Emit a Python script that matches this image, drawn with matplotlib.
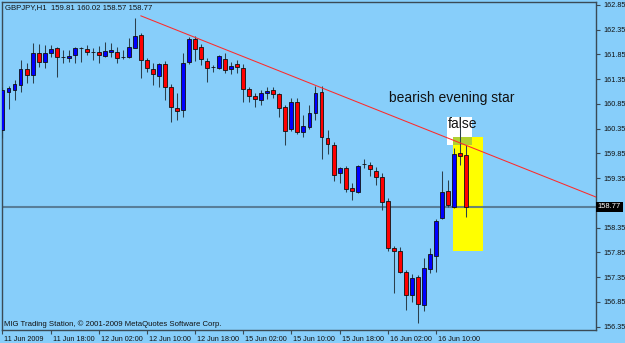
import matplotlib
matplotlib.use("Agg")
import matplotlib.pyplot as plt
from matplotlib.patches import Rectangle
from matplotlib.transforms import ScaledTranslation
import numpy as np

# GBPJPY H1, bar 0 = 11 Jun 2009 10:00
opens = [160.33, 161.09, 161.13, 161.23, 161.56, 161.44, 161.88, 161.70, 161.88, 161.98,
         161.79, 161.78, 161.84, 161.98, 161.96, 161.89, 161.90, 161.82, 161.90, 161.90,
         161.79, 161.80, 161.98, 162.24, 161.74, 161.56, 161.42, 161.66, 161.19, 160.77,
         160.73, 161.70, 162.16, 162.00, 161.72, 161.60, 161.58, 161.76, 161.56, 161.66,
         161.58, 161.15, 161.01, 160.93, 161.07, 161.13, 161.05, 160.79, 160.35, 160.89,
         160.28, 160.38, 160.67, 161.09, 160.16, 160.02, 159.46, 159.56, 159.15, 159.07,
         159.63, 159.62, 159.50, 159.38, 158.89, 157.94, 157.88, 157.46, 156.99, 157.35,
         156.79, 157.52, 157.78, 158.55, 159.09, 158.77, 159.86, 159.81]
highs = [161.19, 161.21, 161.34, 161.74, 161.68, 162.08, 162.06, 162.04, 162.04, 162.00,
         161.94, 161.94, 162.00, 162.00, 162.04, 161.98, 162.02, 162.10, 162.08, 162.00,
         161.94, 162.18, 162.59, 162.28, 161.78, 161.68, 161.68, 161.72, 161.25, 161.07,
         161.88, 162.20, 162.22, 162.06, 161.78, 161.64, 161.84, 161.88, 161.70, 161.74,
         161.66, 161.19, 161.07, 161.13, 161.19, 161.19, 161.07, 160.83, 160.97, 160.97,
         160.63, 160.83, 161.21, 161.21, 160.33, 160.08, 159.58, 159.60, 159.25, 159.62,
         159.74, 159.68, 159.58, 159.46, 158.95, 157.98, 157.96, 157.50, 157.42, 157.40,
         157.74, 157.94, 158.53, 159.50, 159.32, 159.96, 160.39, 160.02]
lows = [160.16, 160.75, 160.93, 161.09, 161.27, 161.27, 161.60, 161.58, 161.80, 161.40,
        161.68, 161.70, 161.68, 161.70, 161.84, 161.74, 161.68, 161.80, 161.80, 161.68,
        161.76, 161.78, 161.98, 161.38, 161.50, 161.23, 161.19, 160.93, 160.49, 160.53,
        160.59, 161.66, 161.72, 161.64, 161.29, 161.50, 161.56, 161.48, 161.46, 161.48,
        160.89, 160.89, 160.79, 160.83, 160.95, 160.97, 160.59, 160.02, 160.30, 160.24,
        160.18, 160.35, 160.53, 159.74, 159.84, 159.30, 159.25, 159.07, 158.91, 159.05,
        159.56, 159.40, 159.21, 158.71, 157.88, 157.03, 157.44, 156.69, 156.85, 156.43,
        156.67, 157.44, 157.46, 158.53, 158.77, 158.75, 159.62, 158.57]
closes = [161.13, 161.17, 161.25, 161.56, 161.44, 161.88, 161.70, 161.88, 161.96, 161.80,
          161.79, 161.82, 161.98, 161.98, 161.90, 161.89, 161.84, 161.92, 161.94, 161.78,
          161.79, 162.00, 162.22, 161.74, 161.58, 161.46, 161.66, 161.19, 160.79, 160.71,
          161.68, 162.16, 161.96, 161.76, 161.58, 161.60, 161.82, 161.54, 161.62, 161.60,
          161.15, 161.01, 160.95, 161.07, 161.11, 161.05, 160.77, 160.30, 160.89, 160.28,
          160.41, 160.67, 161.07, 160.18, 160.04, 159.42, 159.56, 159.13, 159.09, 159.60,
          159.63, 159.54, 159.38, 158.87, 157.94, 157.88, 157.46, 156.99, 157.33, 156.81,
          157.54, 157.82, 158.49, 159.07, 158.81, 159.84, 159.80, 158.77]

tick_pos = [0, 8, 16, 24, 32, 40, 48, 56, 64, 72]
tick_labels = ["11 Jun 2009", "11 Jun 18:00", "12 Jun 02:00", "12 Jun 10:00", "12 Jun 18:00",
               "15 Jun 02:00", "15 Jun 10:00", "15 Jun 18:00", "16 Jun 02:00", "16 Jun 10:00"]
price_ticks = [156.35, 156.85, 157.35, 157.85, 158.35, 158.85, 159.35, 159.85,
               160.35, 160.85, 161.35, 161.85, 162.35, 162.85]

last_price = 158.77
trend_x = [23, 98.6]
trend_y = [162.63, 158.97]
zone_x = [74.9, 79.9]
zone_y = [157.87, 160.19]
star_x = [74.9, 78.0]
star_y = [160.02, 160.19]
label_x = [73.8, 78.0]
label_y = [160.02, 160.59]

BG = "#87cefa"
font = "Liberation Sans"

fig = plt.figure(figsize=(6.25, 3.43), dpi=100, facecolor=BG)
ax = fig.add_axes([2 / 625, 13 / 343, 594 / 625, 328 / 343])
ax.set_facecolor(BG)
ax.set_xlim(-0.08, 98.6)
ax.set_ylim(156.284, 162.91)

# objects drawn on the chart
ax.add_patch(Rectangle((label_x[0], label_y[0]), label_x[1] - label_x[0], label_y[1] - label_y[0],
                       facecolor="white", edgecolor="none", zorder=1))
ax.add_patch(Rectangle((zone_x[0], zone_y[0]), zone_x[1] - zone_x[0], zone_y[1] - zone_y[0],
                       facecolor="#ffff00", edgecolor="none", zorder=1.2))
ax.add_patch(Rectangle((star_x[0], star_y[0]), star_x[1] - star_x[0], star_y[1] - star_y[0],
                       facecolor="#b0d030", edgecolor="none", zorder=1.4))

ax.axhline(last_price, color="#4f7088", lw=1.5, alpha=0.85, zorder=2)

x = np.arange(len(opens))
o = np.array(opens)
c = np.array(closes)
cols = np.where(c > o, "#0000ff", np.where(c < o, "#ff0000", "#111111"))
heights = np.where(c == o, 0.004, c - o)
ax.vlines(x, lows, highs, color="#2b3f4c", lw=0.75, zorder=3)
ax.bar(x, heights, bottom=o, width=0.65, color=cols, edgecolor="#111111", lw=0.6, zorder=4)

ax.plot(trend_x, trend_y, color="#ff2a2a", lw=0.75, zorder=5)

ax.text(64.2, 160.89, "bearish evening star", fontsize=10, family=font, color="#111111",
        va="baseline", ha="left", zorder=6)
ax.text(74.0, 160.36, "false", fontsize=10, family=font, color="#111111",
        va="baseline", ha="left", zorder=6)

# axes, ticks
for s in ax.spines.values():
    s.set_color("#3a4a55")
    s.set_linewidth(1)
ax.yaxis.tick_right()
ax.set_yticks(price_ticks)
# the 158.85 label sits under the current price box
ax.set_yticklabels(["" if abs(p - last_price) < 0.2 else f"{p:.2f}" for p in price_ticks],
                   fontsize=5.2, family=font)
ax.tick_params(axis="y", length=3, pad=2, color="#3a4a55", labelcolor="#111111")
ax.set_xticks(tick_pos)
ax.set_xticklabels(tick_labels, fontsize=5.2, family=font)
ax.tick_params(axis="x", length=3, pad=1.5, color="#3a4a55", labelcolor="#111111")
shift = ScaledTranslation(2 / 100, 0, fig.dpi_scale_trans)
for lab in ax.get_xticklabels():
    lab.set_ha("left")
    lab.set_transform(lab.get_transform() + shift)

ax.text(1.003, last_price, f"{last_price:.2f}", transform=ax.get_yaxis_transform(),
        fontsize=5.4, family=font, color="white", va="center", ha="left", zorder=10,
        clip_on=False, bbox=dict(boxstyle="square,pad=0.25", facecolor="black", edgecolor="none"))

ax.text(0.005, 0.982, "GBPJPY,H1  159.81 160.02 158.57 158.77", transform=ax.transAxes,
        fontsize=5.6, family=font, color="#111111", va="center", ha="left")
ax.text(0.004, 0.017, "MIG Trading Station, \u00a9 2001-2009 MetaQuotes Software Corp.",
        transform=ax.transAxes, fontsize=5.6, family=font, color="#111111", va="center", ha="left")

fig.savefig("out.png", dpi=100, facecolor=BG)
